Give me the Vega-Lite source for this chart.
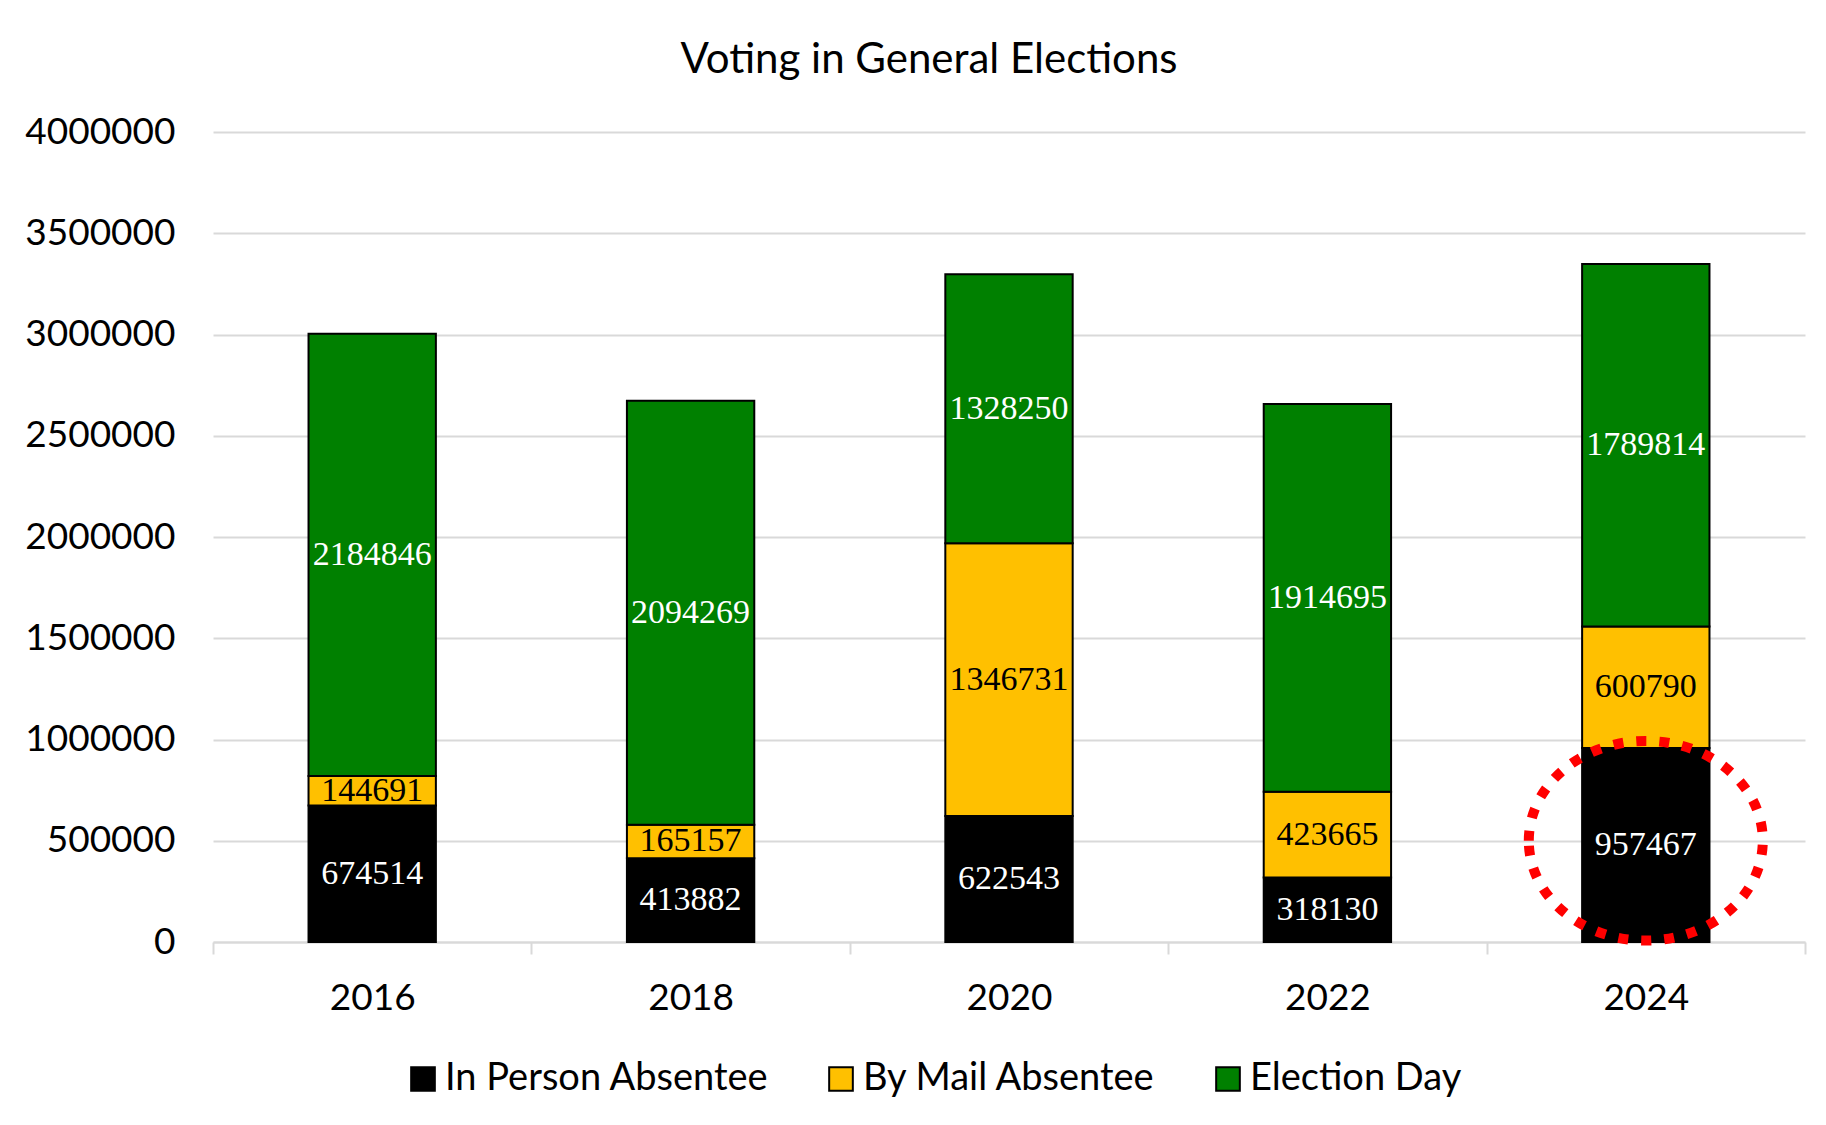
{
  "$schema": "https://vega.github.io/schema/vega-lite/v6.json",
  "autosize": {"type": "none"},
  "width": 1592,
  "height": 810,
  "padding": {"left": 213, "top": 132, "right": 21, "bottom": 183},
  "background": "white",
  "title": {
    "text": "Voting in General Elections",
    "anchor": "middle",
    "frame": "group",
    "dx": -80,
    "dy": 2,
    "offset": 0,
    "baseline": "alphabetic",
    "font": "Lato",
    "fontSize": 42,
    "fontWeight": "normal",
    "color": "#000000"
  },
  "datasets": {
    "votes": [
      {"year": "2016", "type": "In Person Absentee", "ord": 1, "votes": 674514},
      {"year": "2016", "type": "By Mail Absentee", "ord": 2, "votes": 144691},
      {"year": "2016", "type": "Election Day", "ord": 3, "votes": 2184846},
      {"year": "2018", "type": "In Person Absentee", "ord": 1, "votes": 413882},
      {"year": "2018", "type": "By Mail Absentee", "ord": 2, "votes": 165157},
      {"year": "2018", "type": "Election Day", "ord": 3, "votes": 2094269},
      {"year": "2020", "type": "In Person Absentee", "ord": 1, "votes": 622543},
      {"year": "2020", "type": "By Mail Absentee", "ord": 2, "votes": 1346731},
      {"year": "2020", "type": "Election Day", "ord": 3, "votes": 1328250},
      {"year": "2022", "type": "In Person Absentee", "ord": 1, "votes": 318130},
      {"year": "2022", "type": "By Mail Absentee", "ord": 2, "votes": 423665},
      {"year": "2022", "type": "Election Day", "ord": 3, "votes": 1914695},
      {"year": "2024", "type": "In Person Absentee", "ord": 1, "votes": 957467},
      {"year": "2024", "type": "By Mail Absentee", "ord": 2, "votes": 600790},
      {"year": "2024", "type": "Election Day", "ord": 3, "votes": 1789814}
    ],
    "highlight": [
      {"year": "2024", "center": 500000}
    ]
  },
  "config": {
    "font": "Lato",
    "view": {"stroke": null},
    "axis": {"labelColor": "#000000", "labelFont": "Lato"}
  },
  "layer": [
    {
      "data": {"name": "votes"},
      "mark": {"type": "bar", "stroke": "#000000", "strokeWidth": 2, "width": {"band": 0.4}},
      "encoding": {
        "x": {
          "field": "year",
          "type": "nominal",
          "title": null,
          "scale": {"paddingInner": 0, "paddingOuter": 0},
          "axis": {
            "labelAngle": 0,
            "labelFontSize": 37,
            "labelPadding": 26,
            "domain": true,
            "domainColor": "#d9d9d9",
            "domainWidth": 2,
            "ticks": true,
            "tickBand": "extent",
            "tickColor": "#d9d9d9",
            "tickWidth": 2,
            "tickSize": 12,
            "grid": false
          }
        },
        "y": {
          "field": "votes",
          "type": "quantitative",
          "stack": "zero",
          "title": null,
          "scale": {"domain": [0, 4000000], "nice": false},
          "axis": {
            "values": [0, 500000, 1000000, 1500000, 2000000, 2500000, 3000000, 3500000, 4000000],
            "format": "d",
            "labelFontSize": 37,
            "labelPadding": 38,
            "domain": false,
            "ticks": false,
            "grid": true,
            "gridColor": "#d9d9d9",
            "gridWidth": 2
          }
        },
        "color": {
          "field": "type",
          "type": "nominal",
          "scale": {
            "domain": ["In Person Absentee", "By Mail Absentee", "Election Day"],
            "range": ["#000000", "#FFC000", "#008000"]
          },
          "legend": {
            "title": null,
            "orient": "none",
            "direction": "horizontal",
            "legendX": 191,
            "legendY": 928,
            "padding": 0,
            "symbolType": "square",
            "symbolSize": 560,
            "symbolStrokeColor": "#000000",
            "symbolStrokeWidth": 2,
            "labelFontSize": 38,
            "labelFont": "Lato",
            "labelColor": "#000000",
            "labelOffset": 3,
            "columnPadding": 53,
            "labelLimit": 600
          }
        },
        "order": {"field": "ord", "type": "quantitative"}
      }
    },
    {
      "data": {"name": "votes"},
      "mark": {"type": "text", "font": "Liberation Serif", "fontSize": 34, "baseline": "middle", "align": "center"},
      "encoding": {
        "x": {"field": "year", "type": "nominal"},
        "y": {"field": "votes", "type": "quantitative", "stack": "zero", "bandPosition": 0.5},
        "order": {"field": "ord", "type": "quantitative"},
        "text": {"field": "votes", "type": "quantitative", "format": "d"},
        "color": {
          "field": "type",
          "type": "nominal",
          "scale": {
            "domain": ["In Person Absentee", "By Mail Absentee", "Election Day"],
            "range": ["#ffffff", "#000000", "#ffffff"]
          },
          "legend": null
        }
      }
    },
    {
      "data": {"name": "highlight"},
      "mark": {
        "type": "point",
        "shape": "M -1 0 C -1 -0.4711 -0.5523 -0.853 0 -0.853 C 0.5523 -0.853 1 -0.4711 1 0 C 1 0.4711 0.5523 0.853 0 0.853 C -0.5523 0.853 -1 0.4711 -1 0 Z",
        "size": 54756,
        "filled": false,
        "stroke": "#FF0000",
        "strokeWidth": 10,
        "strokeDash": [10, 13],
        "opacity": 1
      },
      "encoding": {
        "x": {"field": "year", "type": "nominal"},
        "y": {"field": "center", "type": "quantitative"}
      }
    }
  ],
  "resolve": {"scale": {"color": "independent"}}
}
